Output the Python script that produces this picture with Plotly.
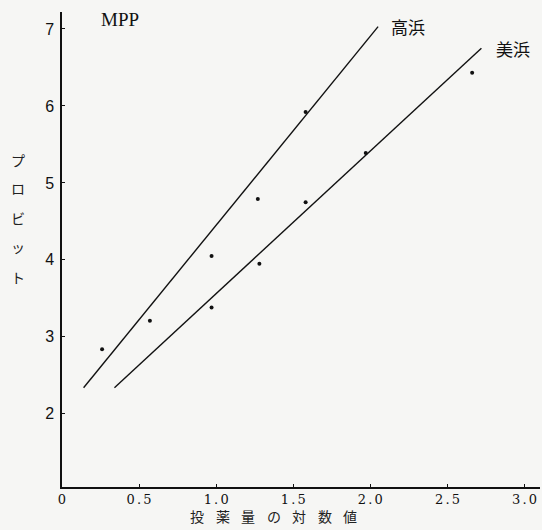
import plotly.graph_objects as go

# Data
taka_x = [0.26, 0.57, 0.97, 1.27, 1.58]
taka_y = [2.84, 3.21, 4.05, 4.79, 5.92]
mihama_x = [0.97, 1.28, 1.58, 1.97, 2.66]
mihama_y = [3.38, 3.95, 4.75, 5.39, 6.43]
taka_line_x = [0.14, 2.05]
taka_line_y = [2.34, 7.03]
mihama_line_x = [0.34, 2.72]
mihama_line_y = [2.34, 6.75]
x_ticks = [0, 0.5, 1.0, 1.5, 2.0, 2.5, 3.0]
x_ticklabels = ["0", "0\u2006.\u20065", "1\u2006.\u20060", "1\u2006.\u20065",
                "2\u2006.\u20060", "2\u2006.\u20065", "3\u2006.\u20060"]
y_ticks = [2, 3, 4, 5, 6, 7]
y_title_chars = ["プ", "ロ", "ビ", "ッ", "ト"]
x_title_chars = ["投", "薬", "量", "の", "対", "数", "値"]

fig = go.Figure()
for lx, ly in [(taka_line_x, taka_line_y), (mihama_line_x, mihama_line_y)]:
    fig.add_trace(go.Scatter(x=lx, y=ly, mode="lines",
                             line=dict(color="#111", width=1.4),
                             showlegend=False, hoverinfo="skip"))
for px, py in [(taka_x, taka_y), (mihama_x, mihama_y)]:
    fig.add_trace(go.Scatter(x=px, y=py, mode="markers",
                             marker=dict(color="#111", size=4),
                             showlegend=False))

W, H = 542, 530
ml, mr, mt, mb = 62, 2, 12, 43
xr = [0, 3.1]
yr = [1.05, 7.22]
PW, PH = W - ml - mr, H - mt - mb

fig.update_layout(
    template="none",
    width=W, height=H,
    margin=dict(l=ml, r=mr, t=mt, b=mb, autoexpand=False),
    paper_bgcolor="#f6f6f4", plot_bgcolor="#f6f6f4",
    xaxis=dict(range=xr, tickvals=x_ticks, ticktext=x_ticklabels,
               automargin=False,
               showgrid=False, zeroline=False, showline=True,
               linecolor="#111", linewidth=1.5, ticks="inside", ticklen=3,
               tickcolor="#111",
               tickfont=dict(family="DejaVu Serif", size=13, color="#111")),
    yaxis=dict(range=yr, tickvals=y_ticks, showgrid=False, zeroline=False,
               automargin=False, ticklabelstandoff=3,
               showline=True, linecolor="#111", linewidth=1.5,
               ticks="inside", ticklen=3, tickcolor="#111",
               tickfont=dict(family="Liberation Sans", size=16, color="#111")),
)

def pxp(px):
    return (px - ml) / PW

def pyp(py):
    return 1 - (py - mt) / PH

def ann(px, py, text, family, size, color="#111"):
    return dict(x=pxp(px), y=pyp(py), xref="paper", yref="paper", text=text,
                xanchor="center", yanchor="middle", showarrow=False,
                font=dict(family=family, size=size, color=color))

anns = [
    ann(120, 19, "MPP", "Liberation Serif", 19),
    ann(408, 26, "高浜", "Noto Sans CJK JP", 17),
    ann(513, 49, "美浜", "Noto Sans CJK JP", 17),
]
for i, ch in enumerate(y_title_chars):
    py = [160, 188, 218, 247, 277][i]
    anns.append(ann(18, py, ch, "Noto Sans CJK JP", 14, "#222"))
for i, ch in enumerate(x_title_chars):
    anns.append(ann(197 + 25.5 * i, 516, ch, "Noto Sans CJK JP", 14, "#222"))
fig.update_layout(annotations=anns)

fig.write_html("out.html", config={"displayModeBar": False},
               post_script="document.body.style.margin='0';document.body.style.overflow='hidden';")
